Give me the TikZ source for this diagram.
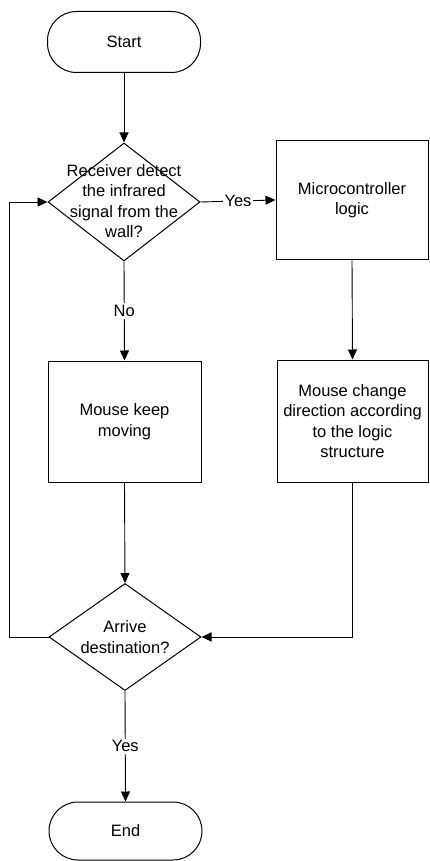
\documentclass[tikz,border=0pt]{standalone}
\usepackage{fontspec}
\setmainfont{Liberation Sans}
\usetikzlibrary{shapes.geometric,arrows.meta}
\begin{document}
\begin{tikzpicture}[x=1pt,y=-1pt,
  every node/.style={font=\fontsize{16.5}{20.5}\selectfont, align=center},
  term/.style={draw, line width=1pt, rectangle, rounded corners=29pt, inner sep=0pt},
  procbox/.style={draw, line width=1pt, rectangle, inner sep=0pt},
  decision/.style={draw, line width=1pt, diamond, inner sep=0pt},
  lbl/.style={fill=white, inner sep=2pt},
  flow/.style={line width=0.9pt, -{Triangle[length=10pt,width=9pt]}},
  link/.style={line width=0.9pt}]
\useasboundingbox (0,0) rectangle (429,861);

% terminators
\node[term, minimum width=153pt, minimum height=61pt] (start) at (124,42) {Start};
\node[term, minimum width=153pt, minimum height=58pt] (stop) at (125.5,831) {End};

% decisions (shape and text kept apart so the text may run past the edges)
\node[decision, minimum width=152pt, minimum height=118pt] (d1) at (124,202) {};
\node (d1t) at (124,201) {Receiver detect\\the infrared\\signal from the\\wall?};
\node[decision, minimum width=152pt, minimum height=107pt] (d2) at (125,637) {};
\node (d2t) at (125,637) {Arrive\\destination?};

% process boxes
\node[procbox, minimum width=152pt, minimum height=118pt] (mc) at (352,200) {Microcontroller\\logic};
\node[procbox, minimum width=153pt, minimum height=121pt] (mk) at (124.5,421.5) {Mouse keep\\moving};
\node[procbox, minimum width=151pt, minimum height=122pt] (mcd) at (352.5,421) {Mouse change\\direction according\\to the logic\\structure};

% connectors
\draw[flow] (start.south) -- (d1.north);
\draw[flow] (d1.east) -- node[lbl] {Yes} (mc.west);
\draw[flow] (d1.south) -- node[lbl, pos=0.5] {No} (mk.north);
\draw[flow] (mc.south) -- (mcd.north);
\draw[flow] (mk.south) -- (d2.north);
\draw[flow] (mcd.south) |- (d2.east);
\draw[flow] (d2.west) -- ([xshift=-39pt]d2.west) |- (d1.west);
\draw[flow] (d2.south) -- node[lbl, pos=0.5] {Yes} (stop.north);
\end{tikzpicture}
\end{document}
